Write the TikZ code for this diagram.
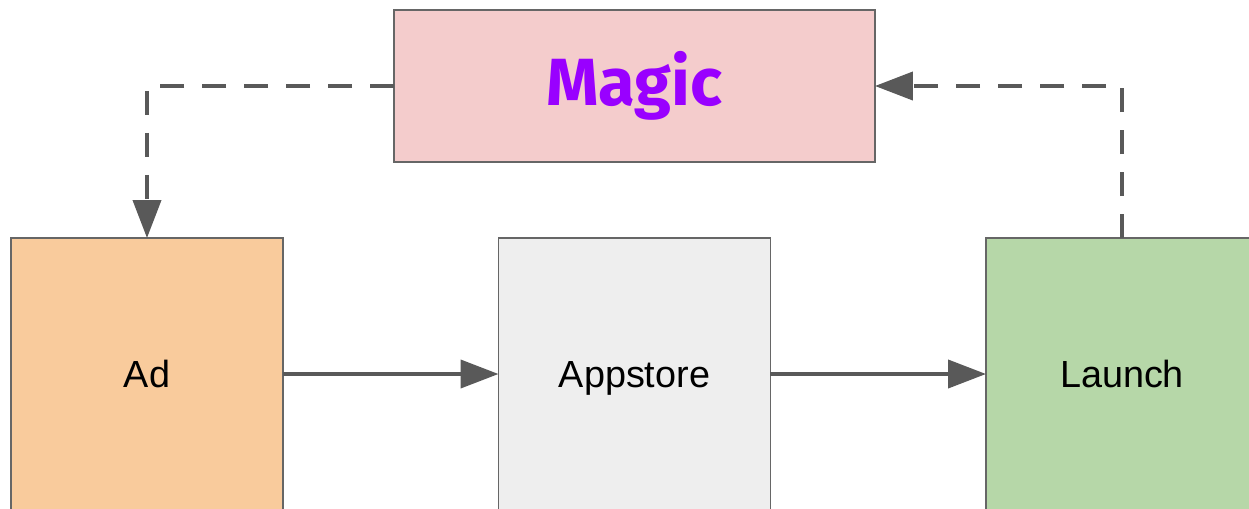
\documentclass[tikz,border=0pt]{standalone}
\usepackage{fontspec}
\setmainfont{Liberation Sans}
\newfontfamily\magicfont{Fira Sans}
\usetikzlibrary{arrows.meta}

\definecolor{adfill}{HTML}{F9CB9C}
\definecolor{storefill}{HTML}{EEEEEE}
\definecolor{launchfill}{HTML}{B6D7A8}
\definecolor{magicfill}{HTML}{F4CCCC}
\definecolor{magictext}{HTML}{9900FF}
\definecolor{boxline}{HTML}{666666}
\definecolor{arrowline}{HTML}{595959}

\tikzset{
	stagebox/.style={draw=boxline,line width=0.03cm,minimum width=5.44cm,minimum height=5.44cm,inner sep=0,outer sep=0,text height=15.4pt,text depth=0pt,font=\fontsize{21.5}{24}\selectfont},
	magicbox/.style={draw=boxline,line width=0.03cm,fill=magicfill,minimum width=9.62cm,minimum height=3.04cm,inner sep=0,outer sep=0,text=magictext,font=\magicfont\bfseries\fontsize{38}{40}\selectfont},
	flow/.style={draw=arrowline,line width=0.08cm,-{Triangle[length=0.76cm,width=0.56cm]}},
	feedback/.style={flow,dash pattern=on 0.48cm off 0.36cm}
}

\begin{document}
\begin{tikzpicture}[x=0.02cm,y=-0.02cm]
	\useasboundingbox (0,0) rectangle (1249,508);
	\clip (0,0) rectangle (1249,508);
	\node[magicbox] (magic) at (634.5,86) {Magic};
	\node[stagebox,fill=adfill] (ad) at (147,374) {Ad};
	\node[stagebox,fill=storefill] (appstore) at (634.5,374) {Appstore};
	\node[stagebox,fill=launchfill] (launch) at (1122,374) {Launch};
	\draw[flow] (ad) -- (appstore);
	\draw[flow] (appstore) -- (launch);
	\draw[feedback] (magic.west) -| (ad.north);
	\draw[feedback] (launch.north) |- (magic.east);
\end{tikzpicture}
\end{document}
